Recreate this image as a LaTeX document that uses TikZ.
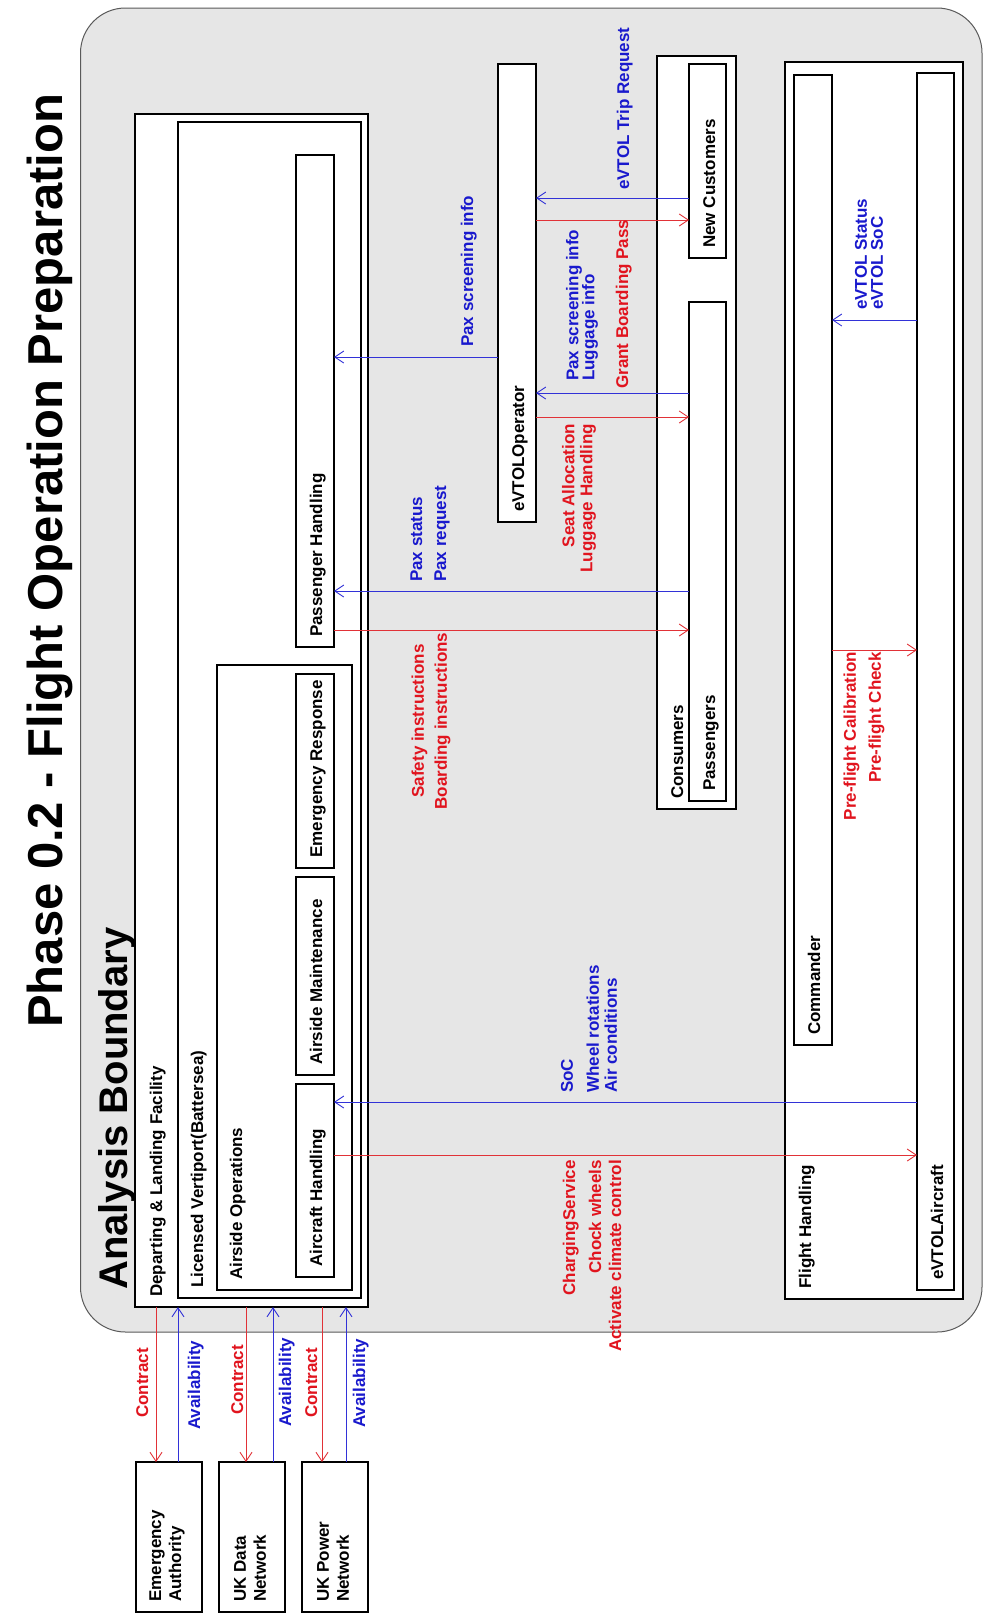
\documentclass[tikz,border=0pt]{standalone}
\usepackage{fontspec}
\setmainfont{Liberation Sans}
\usetikzlibrary{arrows.meta,calc}
\definecolor{myred}{RGB}{225,20,30}
\definecolor{myblue}{RGB}{25,25,205}
\definecolor{redline}{RGB}{225,50,55}
\definecolor{blueline}{RGB}{50,50,215}
\definecolor{bgray}{RGB}{230,230,230}
\definecolor{bline}{RGB}{90,90,90}
\newcommand\labfont{\fontsize{17}{20}\selectfont\bfseries}
\newcommand\bx[5]{\node[box, anchor=north west, minimum width={#4-#2}, minimum height={#5-#3}] (#1) at (#2,#3) {};}
\tikzset{
  box/.style={draw=black, fill=white, line width=1.8pt, inner sep=0pt, outer sep=0pt},
  lab/.style={font=\labfont, rotate=90, inner sep=0pt},
  blab/.style={lab, text=black, anchor=base west},
  rl/.style={lab, text=myred, align=right},
  bl/.style={lab, text=myblue, align=left},
  rarr/.style={draw=redline, line width=0.9pt, -{Straight Barb[length=9pt,width=12pt]}},
  barr/.style={draw=blueline, line width=0.9pt, -{Straight Barb[length=9pt,width=12pt]}}
}
\begin{document}
\begin{tikzpicture}[x=1pt,y=-1pt]
\fill[white] (0,0) rectangle (990,1620);
\useasboundingbox (0,0) rectangle (990,1620);
% title
\node[lab, anchor=base west, font=\fontsize{49}{55}\selectfont\bfseries] (title) at (62,1028) {Phase 0.2 - Flight Operation Preparation};
% analysis boundary
\draw[draw=bline, fill=bgray, line width=1pt, rounded corners=45pt] (80.5,8) rectangle (982,1332);
\node[lab, anchor=base west, font=\fontsize{40}{44}\selectfont\bfseries] (abl) at (127,1290) {Analysis Boundary};
% boxes
\bx{dlf}{135}{114}{368}{1307}
\bx{lv}{178}{122}{361}{1298}
\bx{ao}{217}{665}{352}{1290}
\bx{ph}{296}{155}{334}{647}
\bx{er}{296}{674}{334}{868}
\bx{am}{296}{877}{334}{1075}
\bx{ah}{296}{1084}{334}{1277}
\bx{op}{498}{64}{536}{522}
\bx{cons}{657}{56}{736}{809}
\bx{nc}{689}{64}{726}{258}
\bx{pax}{689}{302}{726}{801}
\bx{fh}{785}{62}{963}{1299}
\bx{cmd}{794}{75}{832}{1045}
\bx{ac}{917}{73}{954}{1290}
\bx{ea}{136}{1462}{202}{1612}
\bx{ukd}{219}{1462}{285}{1612}
\bx{ukp}{302}{1462}{368}{1612}
% box labels
\node[blab] (dlfl) at ($(dlf.south west)+(27,-10)$) {Departing \& Landing Facility};
\node[blab] (lvl) at ($(lv.south west)+(25,-10)$) {Licensed Vertiport(Battersea)};
\node[blab] (aol) at ($(ao.south west)+(25,-10)$) {Airside Operations};
\node[blab] (ahl) at ($(ah.south west)+(26,-10)$) {Aircraft Handling};
\node[blab] (aml) at ($(am.south west)+(26,-10)$) {Airside Maintenance};
\node[blab] (erl) at ($(er.south west)+(26,-10)$) {Emergency Response};
\node[blab] (phl) at ($(ph.south west)+(26,-10)$) {Passenger Handling};
\node[blab] (opl) at ($(op.south west)+(26,-10)$) {eVTOLOperator};
\node[blab] (consl) at ($(cons.south west)+(26,-10)$) {Consumers};
\node[blab] (paxl) at ($(pax.south west)+(26,-10)$) {Passengers};
\node[blab] (ncl) at ($(nc.south west)+(26,-10)$) {New Customers};
\node[blab] (fhl) at ($(fh.south west)+(26,-10)$) {Flight Handling};
\node[blab] (cmdl) at ($(cmd.south west)+(26,-10)$) {Commander};
\node[blab] (acl) at ($(ac.south west)+(26,-10)$) {eVTOLAircraft};
\node[lab, anchor=west, align=left] (eal) at ($(ea.south)+(-2,-10)$) {Emergency\\Authority};
\node[lab, anchor=west, align=left] (ukdl) at ($(ukd.south)+(-2,-10)$) {UK Data\\Network};
\node[lab, anchor=west, align=left] (ukpl) at ($(ukp.south)+(-2,-10)$) {UK Power\\Network};
% external connectors
\draw[rarr] (dlf.south -| 156,0) -- (ea.north -| 156,0);
\draw[barr] (ea.north -| 178,0) -- (dlf.south -| 178,0);
\draw[rarr] (dlf.south -| 246,0) -- (ukd.north -| 246,0);
\draw[barr] (ukd.north -| 273,0) -- (dlf.south -| 273,0);
\draw[rarr] (dlf.south -| 322,0) -- (ukp.north -| 322,0);
\draw[barr] (ukp.north -| 346,0) -- (dlf.south -| 346,0);
\node[lab, text=myred, anchor=base west] (c1) at (148,1418) {Contract};
\node[lab, text=myblue, anchor=base west] (a1) at (200,1430) {Availability};
\node[lab, text=myred, anchor=base west] (c2) at (243,1415) {Contract};
\node[lab, text=myblue, anchor=base west] (a2) at (291,1427) {Availability};
\node[lab, text=myred, anchor=base west] (c3) at (317,1418) {Contract};
\node[lab, text=myblue, anchor=base west] (a3) at (365,1428) {Availability};
% internal connectors
\draw[barr] (op.west |- 0,357) -- (ph.east |- 0,357);
\draw[barr] (nc.west |- 0,198) -- (op.east |- 0,198);
\draw[rarr] (op.east |- 0,220) -- (nc.west |- 0,220);
\draw[barr] (pax.west |- 0,393) -- (op.east |- 0,393);
\draw[rarr] (op.east |- 0,417) -- (pax.west |- 0,417);
\draw[barr] (pax.west |- 0,591) -- (ph.east |- 0,591);
\draw[rarr] (ph.east |- 0,630) -- (pax.west |- 0,630);
\draw[barr] (ac.west |- 0,1102) -- (ah.east |- 0,1102);
\draw[rarr] (ah.east |- 0,1155) -- (ac.west |- 0,1155);
\draw[barr] (ac.west |- 0,320) -- (cmd.east |- 0,320);
\draw[rarr] (cmd.east |- 0,650) -- (ac.west |- 0,650);
% connector labels
\node[lab, text=myblue, anchor=base west] (l1) at (473,347) {Pax screening info};
\node[lab, text=myblue, anchor=base west] (l2) at (629,190) {eVTOL Trip Request};
\node[lab, text=myred, anchor=base west] (l3) at (628,389) {Grant Boarding Pass};
\node[bl, anchor=west] (l4) at (582,381) {Pax screening info\\[-4pt]Luggage info};
\node[rl, anchor=east] (l5) at (579,424) {Seat Allocation\\[-2pt]Luggage Handling};
\node[bl, anchor=west] (l6) at (430,582) {Pax status\\[4pt]Pax request};
\node[lab, text=myred, align=center, anchor=center] (l7) at (431,721) {Safety instructions\\[3pt]Boarding instructions};
\node[bl, anchor=west] (l8) at (589,1093) {SoC\\[6pt]Wheel rotations\\[-2pt]Air conditions};
\node[rl, anchor=east] (l9) at (592,1160) {ChargingService\\[6pt]Chock wheels\\Activate climate control};
\node[bl, anchor=west] (l10) at (869,310) {eVTOL Status\\[-4pt]eVTOL SoC};
\node[rl, anchor=east] (l11) at (864,652) {Pre-flight Calibration\\[5pt]Pre-flight Check};
\end{tikzpicture}
\end{document}
